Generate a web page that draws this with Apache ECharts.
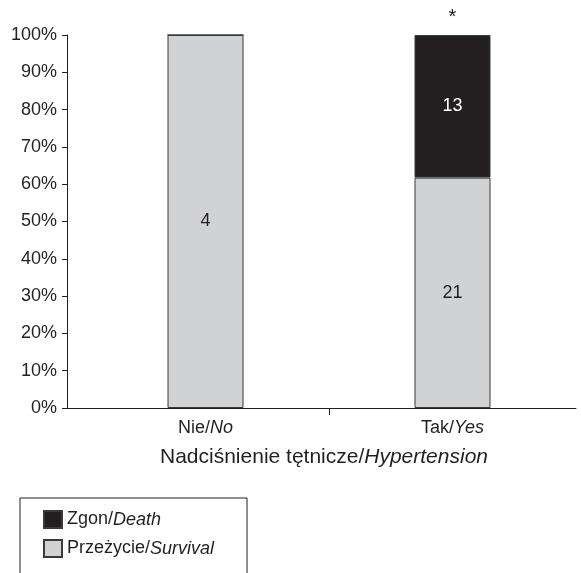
<!DOCTYPE html>
<html>
<head>
<meta charset="utf-8">
<script src="https://cdn.jsdelivr.net/npm/echarts@6/dist/echarts.min.js"></script>
<style>
html,body{margin:0;padding:0;background:#fff;}
#chart{width:581px;height:573px;}
</style>
</head>
<body>
<div id="chart"></div>
<script>
var categories = ['Nie/No', 'Tak/Yes'];
var survivalCounts = [4, 21];
var deathCounts = [0, 13];
var significance = ['', '*'];
var axisTitle = 'Nadciśnienie tętnicze/Hypertension';
var seriesNames = ['Zgon/Death', 'Przeżycie/Survival'];

var totals = survivalCounts.map(function (v, i) { return v + deathCounts[i]; });
var survivalPct = survivalCounts.map(function (v, i) { return { value: v / totals[i] * 100, count: v }; });
var deathPct = deathCounts.map(function (v, i) { return { value: v / totals[i] * 100, count: v }; });

var FONT = '"Liberation Sans", Arial, sans-serif';
var INK = '#231f20';

function splitRich(s) {
  var k = s.indexOf('/');
  return '{n|' + s.slice(0, k + 1) + '}{i|' + s.slice(k + 1) + '}';
}
function richStyle(size) {
  return {
    n: { fontFamily: FONT, fontSize: size, color: INK },
    i: { fontFamily: FONT, fontSize: size, color: INK, fontStyle: 'italic' }
  };
}

var chart = echarts.init(document.getElementById('chart'), null, { renderer: 'canvas' });
chart.setOption({
  animation: false,
  backgroundColor: '#ffffff',
  textStyle: { fontFamily: FONT, color: INK },
  grid: { left: 82, right: 5, top: 35, bottom: 165 },
  legend: {
    orient: 'vertical',
    left: 20,
    top: 498,
    height: 200,
    icon: 'rect',
    data: seriesNames,
    borderColor: INK,
    borderWidth: 1,
    padding: [12, 33, 40, 23],
    itemWidth: 18,
    itemHeight: 17,
    itemGap: 10,
    formatter: function (name) { return splitRich(name); },
    textStyle: { fontFamily: FONT, color: INK, fontSize: 18, rich: richStyle(18) }
  },
  xAxis: [{
    type: 'category',
    data: categories,
    position: 'bottom',
    axisLine: { lineStyle: { color: INK, width: 1 } },
    axisTick: { show: false },
    axisLabel: {
      margin: 11,
      formatter: function (v) { return splitRich(v); },
      rich: richStyle(18)
    },
    name: splitRich(axisTitle),
    nameLocation: 'middle',
    nameGap: 39,
    nameTextStyle: { padding: [0, 10, 0, 0], fontSize: 21, rich: richStyle(21) }
  }, {
    type: 'category',
    data: significance,
    position: 'top',
    axisLine: { show: false },
    axisTick: { show: false },
    axisLabel: { margin: 8, fontFamily: FONT, fontSize: 20, color: INK }
  }, {
    type: 'value',
    min: 0,
    max: 2,
    interval: 1,
    position: 'bottom',
    splitLine: { show: false },
    axisLine: { show: false, onZero: false },
    axisLabel: { show: false },
    axisTick: { show: true, length: 7, lineStyle: { color: INK }, customValues: [1] }
  }],
  yAxis: {
    type: 'value',
    min: 0,
    max: 100,
    interval: 10,
    offset: 15,
    splitLine: { show: false },
    axisLine: { show: true, onZero: false, lineStyle: { color: INK, width: 1 } },
    axisTick: { show: true, length: 5, lineStyle: { color: INK } },
    axisLabel: { margin: 10, fontFamily: FONT, fontSize: 18, color: INK, formatter: '{value}%' }
  },
  graphic: [{
    type: 'line',
    shape: { x1: 67, y1: 408.5, x2: 83, y2: 408.5 },
    style: { stroke: INK, lineWidth: 1 }
  }],
  series: [{
    name: seriesNames[1],
    type: 'bar',
    stack: 'total',
    barWidth: 76,
    data: survivalPct,
    itemStyle: { color: '#d1d2d4', borderColor: '#3a3a3a', borderWidth: 1 },
    label: {
      show: true, position: 'inside', fontFamily: FONT, fontSize: 18, color: INK,
      formatter: function (p) { return p.data.count ? String(p.data.count) : ''; }
    }
  }, {
    name: seriesNames[0],
    type: 'bar',
    stack: 'total',
    barWidth: 76,
    data: deathPct,
    itemStyle: { color: INK, borderColor: '#3a3a3a', borderWidth: 1 },
    label: {
      show: true, position: 'inside', fontFamily: FONT, fontSize: 18, color: '#ffffff',
      formatter: function (p) { return p.data.count ? String(p.data.count) : ''; }
    }
  }]
});
</script>
</body>
</html>
